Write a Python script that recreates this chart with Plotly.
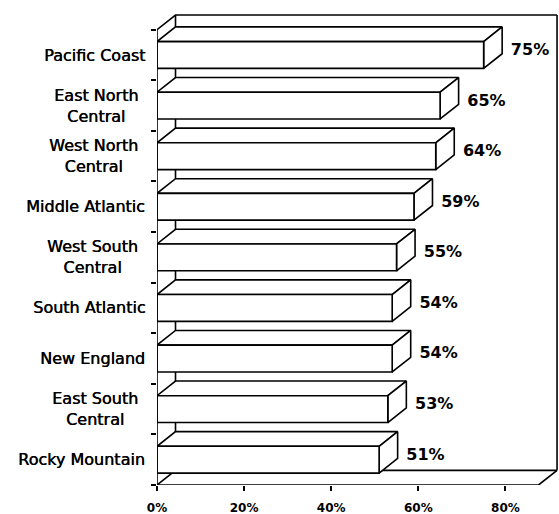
import plotly.graph_objects as go

# ---- data (top to bottom as shown) ----
categories = ["Pacific Coast", "East North<br>Central", "West North<br>Central",
              "Middle Atlantic", "West South<br>Central", "South Atlantic",
              "New England", "East South<br>Central", "Rocky Mountain"]
values = [75, 65, 64, 59, 55, 54, 54, 53, 51]
x_tick_vals = [0, 20, 40, 60, 80]
x_tick_text = ["0%", "20%", "40%", "60%", "80%"]

# ---- style constants ----
n = len(categories)
pos = [n - 1 - i for i in range(n)]
BAR_H = 0.53       # bar thickness (category units)
DX = 4.25          # 3-D depth along x (% units)
DY = 0.29          # 3-D depth along y (category units)
FLOOR_END = 87.6   # end of the floor along x
X_MAX = 92.3
TOP_PAD = 0.06
TEXT_GAP = 2.0
TEXT_DY = 0.08
LW = 1.6
INK = "black"
FONT = "DejaVu Sans"
HEAVY = "0.5px 0px 0px #000"

y_lo, y_hi = -0.5, n - 0.5

fig = go.Figure()


def line_trace(xs, ys):
    return go.Scatter(x=xs, y=ys, mode="lines", line=dict(color=INK, width=LW),
                      hoverinfo="skip", showlegend=False, cliponaxis=False)


def poly_trace(xs, ys):
    return go.Scatter(x=xs, y=ys, mode="lines", fill="toself", fillcolor="white",
                      line=dict(color=INK, width=LW), hoverinfo="skip",
                      showlegend=False, cliponaxis=False)


# back wall, left wall and floor outline (behind bars)
top = y_hi + DY
bot = y_lo + DY
right = FLOOR_END + DX
fig.add_trace(line_trace([0, DX, right], [y_hi, top, top]))
fig.add_trace(line_trace([right, right], [top, bot]))
fig.add_trace(line_trace([right, DX, 0], [bot, bot, y_lo]))
fig.add_trace(line_trace([DX, DX], [top, bot]))

# 3-D bars
for v, c in zip(values, pos):
    ft, fb = c + BAR_H / 2, c - BAR_H / 2
    fig.add_trace(poly_trace([0, DX, v + DX, v, 0], [ft, ft + DY, ft + DY, ft, ft]))
    fig.add_trace(poly_trace([v, v + DX, v + DX, v, v], [ft, ft + DY, fb + DY, fb, ft]))
    fig.add_trace(poly_trace([0, v, v, 0, 0], [fb, fb, ft, ft, fb]))

# front axis lines
fig.add_trace(line_trace([0, 0], [y_lo, y_hi]))
fig.add_trace(line_trace([0, FLOOR_END, right], [y_lo, y_lo, bot]))

# value labels
fig.add_trace(go.Scatter(
    x=[v + DX + TEXT_GAP for v in values], y=[c + TEXT_DY for c in pos],
    mode="text", text=[f"{v}%" for v in values], textposition="middle right",
    textfont=dict(family=FONT, size=16, color=INK, weight="bold"),
    hoverinfo="skip", showlegend=False, cliponaxis=False))

# category labels
for name, c in zip(categories, pos):
    fig.add_annotation(x=0, xref="paper", y=c, yref="y", text=name,
                       xanchor="right", yanchor="middle", align="center",
                       showarrow=False, xshift=-17 if "<br>" in name else -10,
                       font=dict(family=FONT, size=16, color=INK, shadow=HEAVY))

fig.update_layout(
    width=559, height=514,
    margin=dict(l=157, r=0, t=12, b=29),
    paper_bgcolor="white", plot_bgcolor="white", showlegend=False,
    xaxis=dict(range=[0, X_MAX], tickvals=x_tick_vals, ticktext=x_tick_text,
               ticks="outside", ticklen=5, tickwidth=1.5, tickcolor=INK,
               showgrid=False, zeroline=False, showline=False,
               ticklabelstandoff=7,
               tickfont=dict(family=FONT, size=12, color=INK, weight="bold")),
    yaxis=dict(range=[y_lo, top + TOP_PAD],
               tickvals=[k - 0.5 for k in range(n + 1)], ticktext=[""] * (n + 1),
               ticks="outside", ticklen=5, tickwidth=1.5, tickcolor=INK,
               showgrid=False, zeroline=False, showline=False),
)

fig.write_html("out.html")
